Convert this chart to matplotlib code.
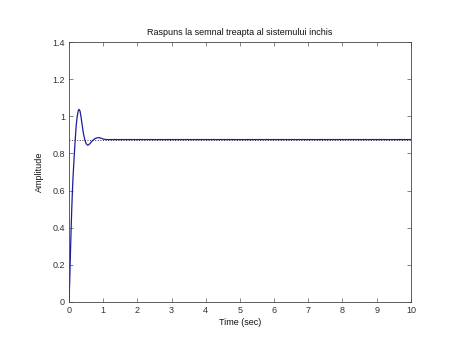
import matplotlib as mpl
mpl.use("Agg")
import matplotlib.pyplot as plt
from matplotlib.ticker import FuncFormatter

mpl.rcParams.update({
    "font.family": "sans-serif",
    "font.sans-serif": ["Liberation Sans", "DejaVu Sans"],
    "font.size": 6.5,
    "axes.linewidth": 0.6,
    "xtick.direction": "in", "ytick.direction": "in",
    "xtick.top": True, "ytick.right": True,
    "xtick.major.size": 3, "ytick.major.size": 3,
    "xtick.major.width": 0.5, "ytick.major.width": 0.5,
})

# step response
T = [0, 0.02, 0.04, 0.06, 0.08, 0.10, 0.12, 0.15, 0.18, 0.21, 0.24, 0.27,
     0.29, 0.32, 0.35, 0.38, 0.42, 0.46, 0.50, 0.54, 0.57, 0.61, 0.66, 0.72,
     0.78, 0.84, 0.89, 0.95, 1.02, 1.1, 1.2, 1.4, 10]
Y = [0, 0.11, 0.25, 0.38, 0.50, 0.60, 0.68, 0.78, 0.87, 0.95, 1.00, 1.03,
     1.038, 1.03, 1.00, 0.96, 0.91, 0.875, 0.853, 0.845, 0.846, 0.853, 0.864, 0.875,
     0.882, 0.885, 0.885, 0.881, 0.877, 0.875, 0.875, 0.875, 0.875]
Y_FINAL = 0.875
X_TICKS = list(range(0, 11))
Y_TICKS = [0, 0.2, 0.4, 0.6, 0.8, 1.0, 1.2, 1.4]

TXT = "#333333"
LINE = "#1c1c9c"

fig = plt.figure(figsize=(4.54, 3.40), dpi=100)
ax = fig.add_axes([0.152, 0.112, 0.753, 0.764])

ax.plot([0, 10], [Y_FINAL, Y_FINAL], ls=":", color="#333333", lw=0.7)
ax.plot(T, Y, color=LINE, lw=0.9)

ax.set_xlim(0, 10)
ax.set_ylim(0, 1.4)
ax.set_xticks(X_TICKS)
ax.set_yticks(Y_TICKS)
ax.yaxis.set_major_formatter(FuncFormatter(lambda v, _: f"{v:g}"))
ax.tick_params(colors="#555555", labelcolor=TXT, labelsize=6.5, pad=3)
for sp in ax.spines.values():
    sp.set_color("#444444")

ax.set_title("Raspuns la semnal treapta al sistemului inchis", fontsize=6.5,
             color="#111111", pad=5)
ax.set_xlabel("Time (sec)", fontsize=6.5, color="#111111", labelpad=2)
ax.set_ylabel("Amplitude", fontsize=6.5, color="#111111", labelpad=6)

fig.savefig("out.png", dpi=100)
